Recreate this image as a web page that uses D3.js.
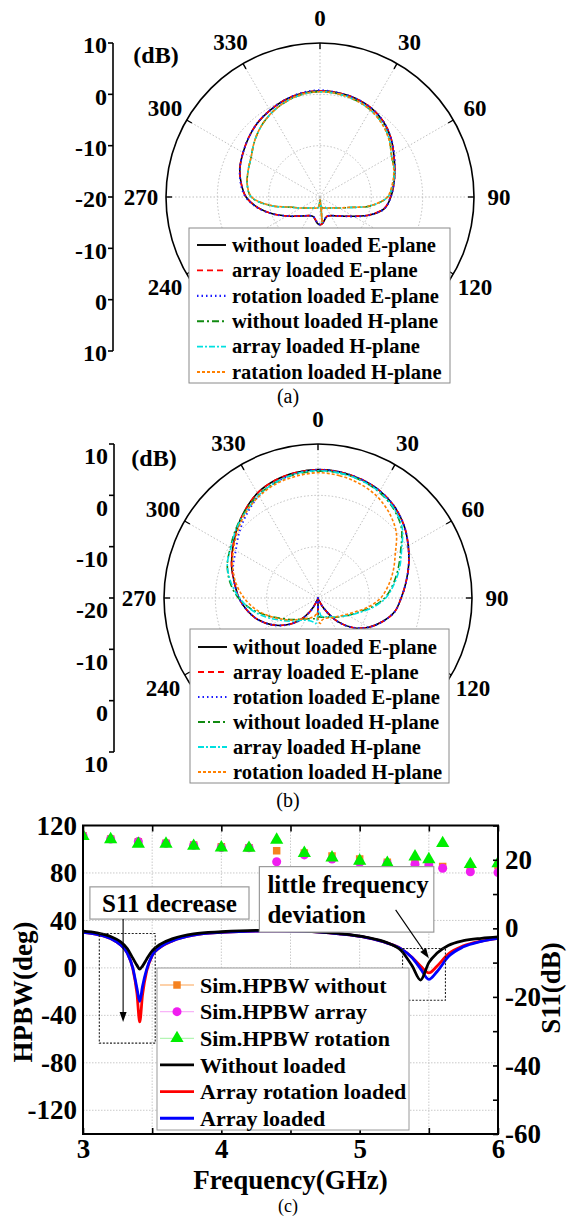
<!DOCTYPE html>
<html><head><meta charset="utf-8">
<script src="https://cdn.jsdelivr.net/npm/d3@7"></script>
<style>body{margin:0;background:#fff}svg{display:block}text{font-family:"Liberation Serif","Times New Roman",serif}</style>
</head><body><svg id="c" width="569" height="1216"></svg>
<script>
// ---------------- DATA ----------------
const POLAR_ANGLES = [0,10,20,30,40,50,60,70,80,90,100,110,120,130,140,150,160,170,175,180,185,190,200,210,220,230,240,250,260,270,280,290,300,310,320,330,340,350];
const RAD_DOMAIN = [-20, 10];
const RAD_GRID = [0, -10];
const RADIAL_TICKS = [10, 0, -10, -20, -10, 0, 10];
const ANGLE_TICKS = [0,30,60,90,120,150,180,210,240,270,300,330];
const ANGLE_LABELS = [0,30,60,90,120,240,270,300,330];

// (a)
const A_E_WITHOUT  = [0.7,0.6,0.4,0.0,-0.8,-2.0,-3.4,-4.5,-5.4,-6.2,-7.2,-9.7,-12.5,-14.2,-15.2,-15.8,-16.0,-15.3,-14.8,-14.6,-14.8,-15.3,-16.0,-15.8,-15.2,-14.2,-12.6,-10.3,-7.8,-5.6,-4.4,-3.4,-2.7,-1.9,-1.1,-0.5,0.1,0.5];
const A_E_ARRAY    = [0.7,0.6,0.4,0.0,-0.8,-2.0,-3.4,-4.5,-5.4,-6.3,-7.3,-9.8,-12.5,-14.2,-15.2,-15.8,-16.0,-15.4,-14.8,-14.6,-14.9,-15.4,-16.0,-15.8,-15.2,-14.2,-12.6,-10.3,-7.8,-5.6,-4.4,-3.4,-2.7,-1.9,-1.1,-0.5,0.1,0.5];
const A_E_ROTATION = [0.8,0.6,0.4,0.0,-0.8,-2.0,-3.3,-4.5,-5.4,-6.2,-7.2,-9.7,-12.4,-14.2,-15.2,-15.8,-16.0,-15.4,-14.8,-14.7,-14.8,-15.4,-16.0,-15.8,-15.2,-14.2,-12.6,-10.3,-7.7,-5.5,-4.3,-3.4,-2.7,-1.9,-1.1,-0.5,0.1,0.6];
const A_H_WITHOUT  = [0.5,0.4,0.1,-0.4,-1.2,-2.4,-3.9,-4.6,-5.6,-6.8,-10.0,-14.0,-15.7,-16.7,-17.2,-17.5,-17.7,-17.9,-15.0,-19.5,-18.5,-17.9,-17.7,-17.5,-17.2,-16.7,-15.7,-14.2,-10.3,-6.6,-5.6,-5.1,-4.5,-3.3,-2.1,-1.1,-0.3,0.3];
const A_H_ARRAY    = [0.5,0.4,0.1,-0.4,-1.2,-2.4,-3.9,-4.6,-5.6,-6.8,-10.1,-14.0,-15.7,-16.7,-17.2,-17.5,-17.7,-17.9,-15.1,-19.5,-18.5,-17.9,-17.7,-17.5,-17.2,-16.7,-15.7,-14.1,-10.3,-6.6,-5.6,-5.1,-4.5,-3.3,-2.1,-1.1,-0.3,0.3];
const A_H_ROTATION = [0.5,0.4,0.1,-0.4,-1.3,-2.5,-3.9,-4.7,-5.7,-6.9,-10.1,-14.1,-15.7,-16.7,-17.2,-17.5,-17.7,-17.9,-15.1,-19.5,-18.4,-17.9,-17.7,-17.5,-17.2,-16.7,-15.7,-14.2,-10.4,-6.7,-5.6,-5.1,-4.5,-3.3,-2.1,-1.1,-0.3,0.3];
const A_LEGEND = ["without loaded E-plane","array loaded E-plane","rotation loaded E-plane","without loaded H-plane","array loaded H-plane","ratation loaded H-plane"];

// (b)
const B_E_WITHOUT  = [5.0,4.9,4.6,4.1,3.2,1.9,0.3,-1.2,-2.6,-3.8,-4.8,-6.6,-8.6,-11.0,-14.0,-17.5,-19.5,-20,-20,-16.7,-20,-20,-19.5,-17.0,-14.2,-11.8,-9.6,-7.6,-6.0,-4.6,-3.5,-2.1,-0.8,0.7,2.2,3.6,4.4,4.8];
const B_E_ARRAY    = [5.0,4.9,4.6,4.1,3.2,1.9,0.3,-1.2,-2.6,-3.8,-4.8,-6.6,-8.6,-11.0,-14.0,-17.5,-19.5,-20,-20,-16.5,-20,-20,-19.5,-17.0,-14.2,-11.8,-9.6,-7.6,-6.0,-4.6,-3.5,-2.1,-0.8,0.7,2.2,3.6,4.4,4.8];
const B_E_ROTATION = [5.0,4.9,4.6,4.1,3.2,1.9,0.3,-1.2,-2.6,-3.8,-4.8,-6.6,-8.6,-11.0,-14.0,-17.5,-19.5,-20,-20,-16.9,-20,-20,-19.5,-17.0,-14.2,-11.8,-9.6,-7.6,-6.0,-4.6,-3.5,-2.4,-1.5,0.0,1.5,3.0,4.0,4.6];
const B_H_WITHOUT  = [4.7,4.7,4.4,3.8,2.8,1.2,-1.4,-3.4,-5.2,-7.0,-9.5,-11.8,-13.2,-14.3,-15.1,-15.7,-16.0,-16.2,-16.3,-16.2,-16.0,-15.9,-15.7,-15.3,-14.6,-13.5,-12.0,-9.8,-7.0,-4.5,-2.6,-1.2,-0.3,0.9,2.1,3.2,4.0,4.5];
const B_H_ARRAY    = [4.8,4.7,4.4,3.9,2.9,1.4,-1.2,-3.1,-5.0,-6.8,-9.2,-11.6,-13.2,-14.4,-15.2,-15.8,-16.1,-16.4,-17.5,-16.8,-15.0,-15.2,-15.3,-15.0,-14.3,-13.0,-11.4,-9.2,-6.8,-4.7,-2.8,-1.2,-0.4,0.8,1.9,3.1,4.0,4.6];
const B_H_ROTATION = [4.4,4.2,3.7,2.9,1.6,-0.1,-2.6,-4.4,-6.1,-7.8,-10.0,-12.2,-13.6,-14.5,-15.1,-15.5,-15.8,-15.6,-15.0,-15.9,-17.2,-16.4,-15.9,-15.4,-14.6,-13.3,-11.8,-9.8,-7.6,-5.6,-3.8,-2.3,-1.0,0.4,1.8,2.9,3.7,4.1];
const B_LEGEND = ["without loaded E-plane","array loaded E-plane","rotation loaded E-plane","without loaded H-plane","array loaded H-plane","rotation loaded H-plane"];

// (c)
const HPBW_FREQ     = [3.0,3.2,3.4,3.6,3.8,4.0,4.2,4.4,4.6,4.8,5.0,5.2,5.4,5.5,5.6,5.8,6.0];
const HPBW_WITHOUT  = [111.4,108.6,106.4,105.0,103.6,102.2,101.3,98.8,96.9,94.3,91.8,89.0,87.8,87.0,85.5,85.0,86.5];
const HPBW_ARRAY    = [111.4,108.6,106.4,105.0,103.3,101.5,101.3,89.5,95.2,91.8,88.7,88.0,87.3,86.7,84.0,81.0,80.4];
const HPBW_ROTATION = [111.0,108.3,104.4,104.5,102.7,101.3,101.0,107.8,96.6,92.9,90.1,88.2,93.7,91.5,105.0,87.3,88.0];
const S11_FREQ      = [3.0,3.1,3.2,3.27,3.32,3.36,3.39,3.41,3.43,3.46,3.5,3.56,3.65,3.8,4.0,4.3,4.6,4.85,5.05,5.2,5.3,5.38,5.44,5.5,5.56,5.64,5.75,5.88,6.0];
const S11_WITHOUT   = [-0.8,-1.3,-2.4,-3.9,-5.9,-8.7,-10.8,-11.9,-11.0,-9.0,-6.6,-4.6,-3.0,-1.6,-1.0,-0.6,-0.8,-1.5,-2.6,-4.2,-6.5,-11.0,-15.1,-10.0,-7.2,-5.0,-3.6,-2.9,-2.5];
const S11_ROT       = [-1.2,-1.8,-3.0,-4.8,-7.2,-11.8,-19.0,-27.3,-19.5,-12.5,-8.0,-5.5,-3.6,-2.0,-1.2,-0.8,-0.9,-1.6,-2.7,-4.3,-6.0,-8.5,-11.0,-13.0,-11.0,-7.5,-5.1,-3.7,-2.9];
const S11_ARRAY     = [-1.2,-1.8,-3.0,-4.8,-7.2,-11.5,-17.5,-21.3,-17.0,-12.0,-7.9,-5.4,-3.6,-2.0,-1.2,-0.8,-0.9,-1.6,-2.7,-4.3,-6.0,-8.6,-11.8,-14.9,-12.6,-8.3,-5.4,-3.8,-2.9];
const X_TICKS = [3,3.5,4,4.5,5,5.5,6];
const X_LABELS = [3,4,5,6];
const YL_TICKS = [120,80,40,0,-40,-80,-120];
const YR_TICKS = [30,20,10,0,-10,-20,-30,-40,-50,-60];
const YR_LABELS = [20,0,-20,-40,-60];
const C_LEGEND = ["Sim.HPBW without","Sim.HPBW array","Sim.HPBW rotation","Without loaded","Array rotation loaded","Array loaded"];

// ---------------- STYLES / LAYOUT ----------------
const SERIES_STYLES = [
  {color:"#000000", dash:null, w:1.6},
  {color:"#ff0000", dash:"6,4", w:1.6},
  {color:"#1a1aff", dash:"1.5,3", w:1.9},
  {color:"#118a11", dash:"7,3,2,3", w:1.6},
  {color:"#00e0e0", dash:"6,2,2,2", w:1.6},
  {color:"#ff8000", dash:"3,2", w:1.6}
];
const PANEL_A = {cx:320, cy:197, R:154, labelR:179, axisX:113, labelDy:2, dB:[156,55], caption:"(a)", capY:396,
  legend:{x:189, y:228, w:261, h:155, row0:245, step:25.4}};
const PANEL_B = {cx:318, cy:598, R:154, labelR:179, axisX:114, labelDy:12, dB:[154,458], caption:"(b)", capY:800,
  legend:{x:190, y:629, w:259, h:154, row0:647, step:25.0}};

const svg = d3.select("#c");
svg.append("rect").attr("width",569).attr("height",1216).attr("fill","#fff");

function polar(P, series, labels) {
  const r = d3.scaleLinear().domain(RAD_DOMAIN).range([0, P.R]).clamp(true);
  const g = svg.append("g").attr("transform", `translate(${P.cx},${P.cy})`);
  const xy = (a, rad) => [rad*Math.sin(a*Math.PI/180), -rad*Math.cos(a*Math.PI/180)];
  RAD_GRID.forEach(v => g.append("circle").attr("r", r(v)).attr("fill","none")
    .attr("stroke","#b8b8b8").attr("stroke-width",0.9).attr("stroke-dasharray","1.5,2"));
  ANGLE_TICKS.forEach(a => { const p = xy(a, P.R);
    g.append("line").attr("x1",0).attr("y1",0).attr("x2",p[0]).attr("y2",p[1])
      .attr("stroke","#b8b8b8").attr("stroke-width",0.9).attr("stroke-dasharray","1.5,2"); });
  g.append("circle").attr("r",P.R).attr("fill","none").attr("stroke","#000").attr("stroke-width",1.6);
  ANGLE_TICKS.forEach(a => { const p1 = xy(a, P.R-6), p2 = xy(a, P.R);
    g.append("line").attr("x1",p1[0]).attr("y1",p1[1]).attr("x2",p2[0]).attr("y2",p2[1]).attr("stroke","#000").attr("stroke-width",1.4); });
  ANGLE_LABELS.forEach(a => { const q = xy(a, P.labelR);
    g.append("text").attr("x",q[0]).attr("y",q[1]).attr("dy","0.35em").attr("text-anchor","middle")
      .attr("font-size",23).attr("font-weight","bold").text(a); });
  const line = d3.lineRadial().angle(d => d[0]*Math.PI/180).radius(d => r(d[1]))
    .curve(d3.curveCatmullRomClosed.alpha(0.5));
  series.forEach((vals, i) => { const st = SERIES_STYLES[i];
    g.append("path").datum(POLAR_ANGLES.map((a,j) => [a, vals[j]])).attr("d", line)
      .attr("fill","none").attr("stroke",st.color).attr("stroke-width",st.w)
      .attr("stroke-dasharray", st.dash).attr("stroke-linejoin","round"); });
  const L = P.legend;
  svg.append("rect").attr("x",L.x).attr("y",L.y).attr("width",L.w).attr("height",L.h)
    .attr("fill","#fff").attr("stroke","#8a8a8a").attr("stroke-width",1);
  labels.forEach((t,i) => { const st = SERIES_STYLES[i]; const yy = L.row0 + i*L.step;
    svg.append("line").attr("x1",L.x+8).attr("x2",L.x+37).attr("y1",yy).attr("y2",yy)
      .attr("stroke",st.color).attr("stroke-width",st.w+0.3).attr("stroke-dasharray",st.dash);
    svg.append("text").attr("x",L.x+43).attr("y",yy).attr("dy","0.33em").attr("font-size",20.5)
      .attr("font-weight","bold").text(t); });
  svg.append("line").attr("x1",P.axisX).attr("x2",P.axisX).attr("y1",P.cy-P.R).attr("y2",P.cy+P.R)
    .attr("stroke","#000").attr("stroke-width",1.6);
  RADIAL_TICKS.forEach((v,i) => { const side = i < 3 ? -1 : (i === 3 ? 0 : 1);
    const yy = P.cy + side*r(v);
    svg.append("line").attr("x1",P.axisX-5).attr("x2",P.axisX).attr("y1",yy).attr("y2",yy).attr("stroke","#000").attr("stroke-width",1.6);
    svg.append("text").attr("x",P.axisX-6).attr("y",yy+P.labelDy).attr("dy","0.35em").attr("text-anchor","end")
      .attr("font-size",24).attr("font-weight","bold").text(String(v)); });
  svg.append("text").attr("x",P.dB[0]).attr("y",P.dB[1]).attr("dy","0.35em").attr("text-anchor","middle")
    .attr("font-size",24).attr("font-weight","bold").text("(dB)");
  svg.append("text").attr("x",288).attr("y",P.capY).attr("dy","0.35em").attr("text-anchor","middle")
    .attr("font-size",20).text(P.caption);
}

polar(PANEL_A, [A_E_WITHOUT,A_E_ARRAY,A_E_ROTATION,A_H_WITHOUT,A_H_ARRAY,A_H_ROTATION], A_LEGEND);
polar(PANEL_B, [B_E_WITHOUT,B_E_ARRAY,B_E_ROTATION,B_H_WITHOUT,B_H_ARRAY,B_H_ROTATION], B_LEGEND);

// ---------------- PANEL (c) ----------------
const C = {x0:83, x1:498, y0:825.5, y1:1134};
const x = d3.scaleLinear().domain([3,6]).range([C.x0, C.x1]);
const yL = d3.scaleLinear().domain([-140,120]).range([C.y1, C.y0]);
const yR = d3.scaleLinear().domain([-60,30]).range([C.y1, C.y0]);

svg.append("defs").append("clipPath").attr("id","clipC").append("rect")
  .attr("x",C.x0).attr("y",C.y0).attr("width",C.x1-C.x0).attr("height",C.y1-C.y0);

const grid = svg.append("g").attr("stroke","#c4c4c4").attr("stroke-width",0.9).attr("stroke-dasharray","1.5,1.5");
X_TICKS.slice(1,-1).forEach(f => grid.append("line").attr("x1",x(f)).attr("x2",x(f)).attr("y1",C.y0).attr("y2",C.y1));
YL_TICKS.slice(1).forEach(v => grid.append("line").attr("x1",C.x0).attr("x2",C.x1).attr("y1",yL(v)).attr("y2",yL(v)));

const plot = svg.append("g").attr("clip-path","url(#clipC)");
const markerSpecs = [
  {vals:HPBW_WITHOUT, type:d3.symbolSquare, size:56, color:"#f5821f", light:"#fcc28c"},
  {vals:HPBW_ARRAY, type:d3.symbolCircle, size:64, color:"#f01ef0", light:"#f8b4f8"},
  {vals:HPBW_ROTATION, type:d3.symbolTriangle, size:76, color:"#00ee00", light:"#b4f5b4"}
];
markerSpecs.forEach(m => {
  plot.selectAll(null).data(HPBW_FREQ.map((f,i)=>[f,m.vals[i]])).join("path")
    .attr("d", d3.symbol().type(m.type).size(m.size))
    .attr("transform", d => `translate(${x(d[0])},${yL(d[1])})`).attr("fill", m.color);
});
const s11Line = d3.line().x(d=>x(d[0])).y(d=>yR(d[1])).curve(d3.curveMonotoneX);
const curveSpecs = [
  {vals:S11_ROT, color:"#ff0000"},
  {vals:S11_ARRAY, color:"#0000ff"},
  {vals:S11_WITHOUT, color:"#000000"}
];
curveSpecs.forEach(c => plot.append("path").datum(S11_FREQ.map((f,i)=>[f,c.vals[i]]))
  .attr("d", s11Line).attr("fill","none").attr("stroke",c.color).attr("stroke-width",2.8).attr("stroke-linejoin","round"));

// annotations (in data units: freq, right-axis dB)
const DOT_RECTS = [[3.118,3.522,-1.5,-33.5],[5.31,5.62,-5.9,-21.0]];
DOT_RECTS.forEach(b => svg.append("rect").attr("x",x(b[0])).attr("y",yR(b[2]))
  .attr("width",x(b[1])-x(b[0])).attr("height",yR(b[3])-yR(b[2]))
  .attr("fill","none").attr("stroke","#222").attr("stroke-width",1.1).attr("stroke-dasharray","2,1.6"));
function arrow(f0,v0,f1,v1){
  const x0=x(f0),y0=yR(v0),x1=x(f1),y1=yR(v1);
  const ang=Math.atan2(y1-y0,x1-x0), L=10, W=3.5;
  const bx=x1-L*Math.cos(ang), by=y1-L*Math.sin(ang);
  svg.append("line").attr("x1",x0).attr("y1",y0).attr("x2",bx).attr("y2",by).attr("stroke","#000").attr("stroke-width",1.1);
  svg.append("path").attr("d",`M${x1},${y1}L${bx+W*Math.sin(ang)},${by-W*Math.cos(ang)}L${bx-W*Math.sin(ang)},${by+W*Math.cos(ang)}Z`).attr("fill","#000");
}
const TEXT_BOXES = [
  {box:[3.05,4.2,12.1,2.7], lines:["S11 decrease"], anchor:"middle"},
  {box:[4.275,5.536,18.0,-1.1], lines:["little frequency","deviation"], anchor:"start"}
];
TEXT_BOXES.forEach(t => {
  const bx0=x(t.box[0]), bx1=x(t.box[1]), by0=yR(t.box[2]), by1=yR(t.box[3]);
  svg.append("rect").attr("x",bx0).attr("y",by0).attr("width",bx1-bx0).attr("height",by1-by0)
    .attr("fill","#fff").attr("stroke","#9a9a9a").attr("stroke-width",1.2);
  t.lines.forEach((s,i) => {
    const yy = t.lines.length===1 ? (by0+by1)/2 : by0 + 18 + i*30;
    svg.append("text").attr("x", t.anchor==="middle" ? (bx0+bx1)/2 : bx0+8).attr("y",yy).attr("dy","0.35em")
      .attr("text-anchor",t.anchor).attr("font-size",25).attr("font-weight","bold").text(s);
  });
});
arrow(3.29,2.7,3.29,-27.3);
arrow(5.26,5.4,5.5,-8.7);

// frame & axes
svg.append("rect").attr("x",C.x0).attr("y",C.y0).attr("width",C.x1-C.x0).attr("height",C.y1-C.y0)
  .attr("fill","none").attr("stroke","#000").attr("stroke-width",2);
function styleAxis(sel, fs){
  sel.select(".domain").remove();
  sel.selectAll(".tick line").attr("stroke","#000").attr("stroke-width",1.6);
  sel.selectAll("text").attr("font-size",fs).attr("font-weight","bold").attr("fill","#000")
    .attr("font-family",'"Liberation Serif","Times New Roman",serif');
}
svg.append("g").attr("transform",`translate(0,${C.y1})`)
  .call(d3.axisBottom(x).tickValues(X_TICKS).tickSizeInner(-6).tickSizeOuter(0).tickPadding(5)
    .tickFormat(d => X_LABELS.includes(d) ? String(d) : "")).call(s => styleAxis(s,27));
svg.append("g").attr("transform",`translate(0,${C.y0})`)
  .call(d3.axisTop(x).tickValues(X_TICKS).tickSizeInner(-6).tickSizeOuter(0).tickFormat(""))
  .call(s => styleAxis(s,27));
svg.append("g").attr("transform",`translate(${C.x0},0)`)
  .call(d3.axisLeft(yL).tickValues(YL_TICKS).tickSizeInner(0).tickSizeOuter(0).tickPadding(6).tickFormat(d => String(d)))
  .call(s => styleAxis(s,27));
svg.append("g").attr("transform",`translate(${C.x1},0)`)
  .call(d3.axisRight(yR).tickValues(YR_TICKS).tickSizeInner(-5).tickSizeOuter(0).tickPadding(7)
    .tickFormat(d => YR_LABELS.includes(d) ? String(d) : "")).call(s => styleAxis(s,27));

svg.append("text").attr("transform","translate(23,992) rotate(-90)").attr("text-anchor","middle").attr("dy","0.35em")
  .attr("font-size",27).attr("font-weight","bold").text("HPBW(deg)");
svg.append("text").attr("transform","translate(551,988) rotate(-90)").attr("text-anchor","middle").attr("dy","0.35em")
  .attr("font-size",27).attr("font-weight","bold").text("S11(dB)");
svg.append("text").attr("x",(C.x0+C.x1)/2).attr("y",1179.5).attr("dy","0.35em").attr("text-anchor","middle")
  .attr("font-size",27).attr("font-weight","bold").text("Frequency(GHz)");
svg.append("text").attr("x",288).attr("y",1212).attr("text-anchor","middle")
  .attr("font-size",18).text("(c)");

// legend (c)
const LC = {x:157, y:968, w:252, h:162, row0:985, step:26.65};
svg.append("rect").attr("x",LC.x).attr("y",LC.y).attr("width",LC.w).attr("height",LC.h)
  .attr("fill","#fff").attr("stroke","#9a9a9a").attr("stroke-width",1);
const legendSamples = [
  {line:markerSpecs[0].light, w:1.3, m:markerSpecs[0]},
  {line:markerSpecs[1].light, w:1.3, m:markerSpecs[1]},
  {line:markerSpecs[2].light, w:1.3, m:markerSpecs[2]},
  {line:"#000000", w:2.8},
  {line:"#ff0000", w:2.8},
  {line:"#0000ff", w:2.8}
];
C_LEGEND.forEach((t,i) => { const yy = LC.row0 + i*LC.step; const s = legendSamples[i];
  svg.append("line").attr("x1",LC.x+3).attr("x2",LC.x+37).attr("y1",yy).attr("y2",yy)
    .attr("stroke",s.line).attr("stroke-width",s.w);
  if (s.m) svg.append("path").attr("d", d3.symbol().type(s.m.type).size(s.m.size)())
    .attr("transform",`translate(${LC.x+20},${yy})`).attr("fill",s.m.color);
  svg.append("text").attr("x",LC.x+43).attr("y",yy).attr("dy","0.35em").attr("font-size",22)
    .attr("font-weight","bold").text(t);
});
</script>
</body></html>
